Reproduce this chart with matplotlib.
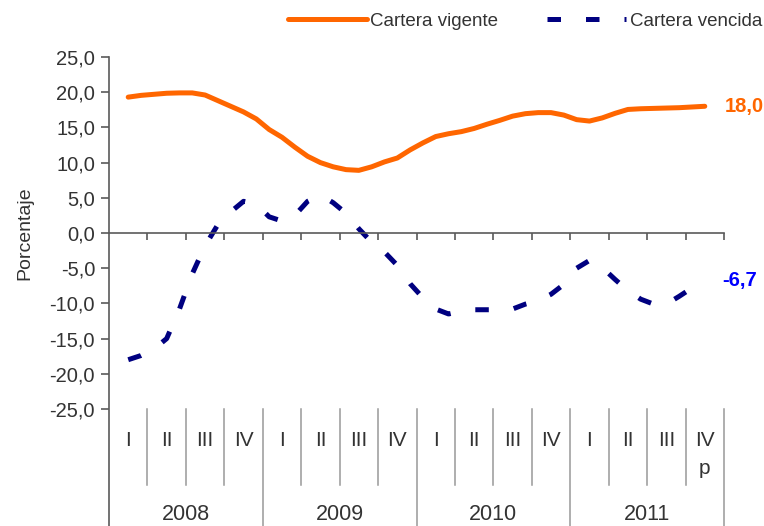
import numpy as np
import matplotlib
matplotlib.use("Agg")
import matplotlib.pyplot as plt
import matplotlib.transforms as mtransforms
from matplotlib.lines import Line2D
from matplotlib.ticker import FuncFormatter, MultipleLocator

plt.rcParams['font.family'] = ['Liberation Sans', 'DejaVu Sans']

# ---- data (monthly readings, Mar-2008 .. Dec-2011) ----
cartera_vigente = [19.3, 19.55, 19.7, 19.85, 19.9, 19.9, 19.6, 18.8, 18.0, 17.2,
                   16.2, 14.7, 13.6, 12.2, 10.9, 10.0, 9.4, 9.0, 8.9, 9.4,
                   10.1, 10.65, 11.8, 12.8, 13.7, 14.1, 14.4, 14.85, 15.45, 16.0,
                   16.6, 16.95, 17.1, 17.1, 16.75, 16.1, 15.9, 16.35, 17.0, 17.55,
                   17.65, 17.7, 17.75, 17.8, 17.9, 18.0]
cartera_vencida = [-18.0, -17.4, -16.5, -15.0, -10.8, -5.8, -1.8, 1.2, 3.0, 4.5,
                   4.1, 2.3, 1.7, 2.5, 4.5, 5.4, 4.3, 2.8, 0.6, -1.3,
                   -2.7, -4.6, -7.2, -9.2, -10.8, -11.5, -11.1, -10.9, -10.9, -10.9,
                   -10.8, -10.1, -9.6, -8.7, -7.3, -5.0, -3.9, -4.9, -6.6, -8.2,
                   -9.4, -10.1, -10.1, -9.0, -7.8, -6.7]
quarter_labels = ['I', 'II', 'III', 'IV'] * 4
year_labels = ['2008', '2009', '2010', '2011']
prelim_mark = 'p'
series_names = ['Cartera vigente', 'Cartera vencida']
end_labels = ['18,0', '-6,7']

ORANGE = '#FF6600'
NAVY = '#000080'
BLUE = '#0000FF'
TXT = '#333333'
AX = '#5a5a5a'
SEP = '#999999'

W, H = 764, 526
fig = plt.figure(figsize=(W / 100, H / 100), dpi=100)
left, right, top, bottom = 109, 724, 57, 409
ax = fig.add_axes([left / W, 1 - bottom / H, (right - left) / W, (bottom - top) / H])

n_q = len(quarter_labels)
x = 0.5 + np.arange(len(cartera_vigente)) / 3.0

l1, = ax.plot(x, cartera_vigente, color=ORANGE, lw=3.6, solid_capstyle='round',
              solid_joinstyle='round', label=series_names[0])
l2, = ax.plot(x, cartera_vencida, color=NAVY, lw=3.6, dashes=(2.7, 5.0),
              dash_capstyle='butt', label=series_names[1])

ax.set_xlim(0, n_q)
ax.set_ylim(-25, 25)
ax.yaxis.set_major_locator(MultipleLocator(5))
ax.yaxis.set_major_formatter(FuncFormatter(lambda v, p: f"{v:.1f}".replace('.', ',')))
ax.tick_params(axis='y', direction='out', length=6, width=1.2, color=AX,
               labelsize=14.5, labelcolor=TXT, pad=4)

for s in ['top', 'right']:
    ax.spines[s].set_visible(False)
ax.spines['bottom'].set_position(('data', 0))
ax.spines['bottom'].set_color(AX)
ax.spines['bottom'].set_linewidth(1.2)
ax.spines['left'].set_visible(False)
ax.set_xticks(np.arange(1, n_q + 1))
ax.set_xticklabels([])
ax.tick_params(axis='x', direction='out', length=5, width=1.2, color=AX)

# left axis line extended to the figure bottom
ax.add_line(Line2D([0, 0], [1, -bottom / (bottom - top) * 0 - (H - bottom) / (bottom - top)],
                   transform=ax.transAxes, color=AX, lw=1.2, clip_on=False))

ax.set_ylabel('Porcentaje', fontsize=14, color=TXT, va='center')
ax.yaxis.set_label_coords((25 - left) / (right - left), 0.5)

# category axis below the plot
trans = mtransforms.blended_transform_factory(ax.transData, fig.transFigure)
y_axis_bottom = 1 - bottom / H
y_q_sep_end = 1 - 485 / H
for i in range(1, n_q + 1):
    if i % 4 == 0:
        ax.add_line(Line2D([i, i], [y_axis_bottom, 0], transform=trans, color=SEP,
                           lw=1.1, clip_on=False))
    else:
        ax.add_line(Line2D([i, i], [y_axis_bottom, y_q_sep_end], transform=trans,
                           color=SEP, lw=1.1, clip_on=False))
for i, q in enumerate(quarter_labels):
    ax.text(i + 0.5, 1 - 440 / H, q, transform=trans, ha='center', va='center',
            fontsize=15, color=TXT)
ax.text(n_q - 0.5, 1 - 468 / H, prelim_mark, transform=trans, ha='center',
        va='center', fontsize=15, color=TXT)
for j, yl in enumerate(year_labels):
    ax.text(j * 4 + 2, 1 - 515 / H, yl, transform=trans, ha='center', va='center',
            fontsize=15.5, color=TXT)

# end value labels
ax.annotate(end_labels[0], xy=(x[-1], cartera_vigente[-1]), xytext=(14.5, 0),
            textcoords='offset points', ha='left', va='center', fontsize=14.5,
            fontweight='bold', color=ORANGE, annotation_clip=False)
ax.annotate(end_labels[1], xy=(x[-1], cartera_vencida[-1]), xytext=(12.5, 0),
            textcoords='offset points', ha='left', va='center', fontsize=14.5,
            fontweight='bold', color=BLUE, annotation_clip=False)

fig.legend(handles=[l1, l2], loc='center', bbox_to_anchor=(525 / W, 1 - 21 / H),
           ncol=2, frameon=False, fontsize=13.5, handlelength=4.2,
           handletextpad=0.2, columnspacing=2.6, labelcolor=TXT, borderpad=0)

fig.savefig('out.png', dpi=100)
